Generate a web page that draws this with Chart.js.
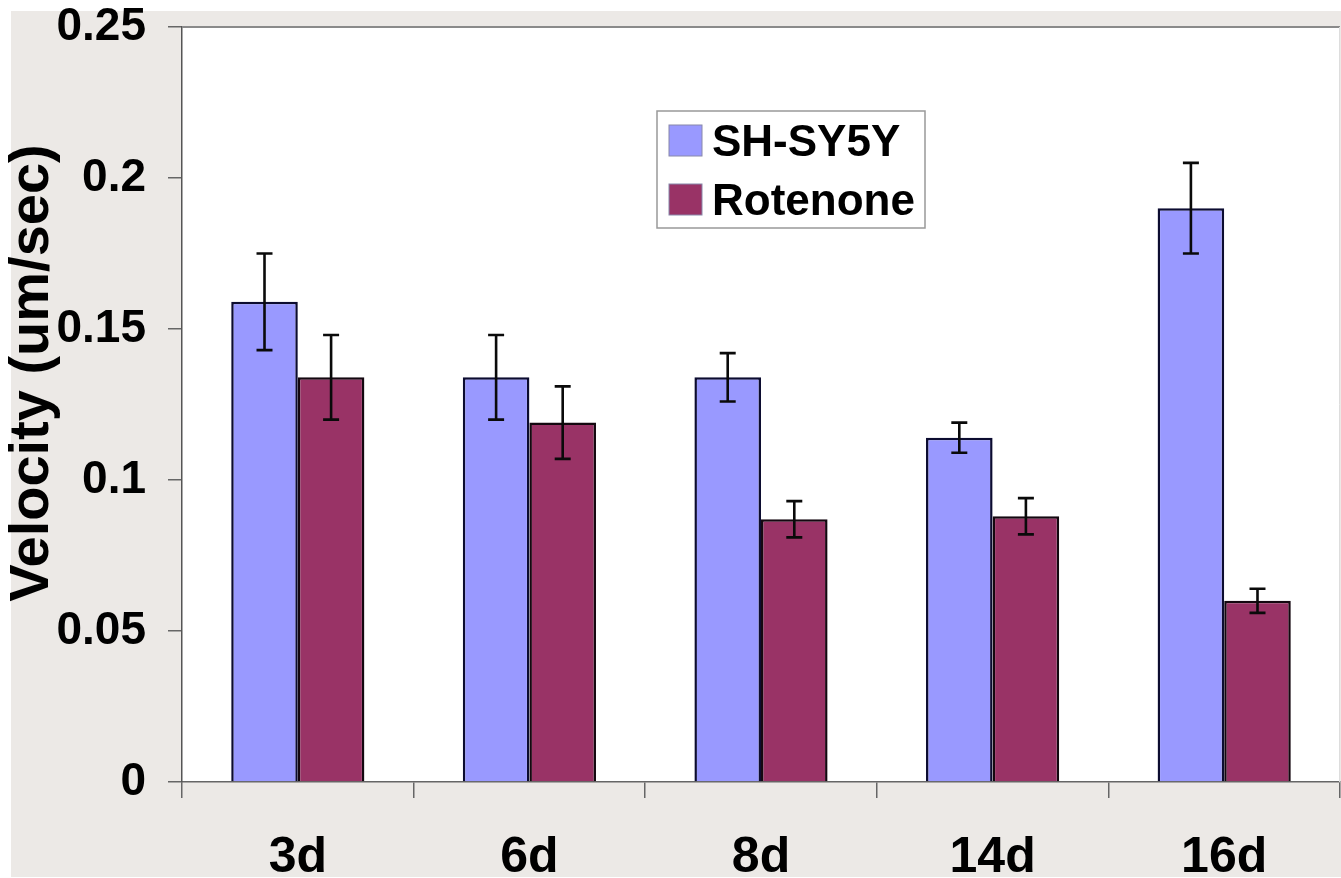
<!DOCTYPE html>
<html lang="en">
<head>
    <meta charset="UTF-8">
    <title>Velocity - SH-SY5Y vs Rotenone</title>
    <script src="https://cdn.jsdelivr.net/npm/chart.js"></script>
    <style>
        body { margin: 0; background: #ffffff; }
        #wrap { width: 1341px; height: 878px; }
    </style>
</head>
<body>
    <div id="wrap">
        <canvas id="velocityChart" width="1341" height="878"></canvas>
    </div>

    <script>
        // chart data
        const categories = ['3d', '6d', '8d', '14d', '16d'];
        const shsy5y = [0.159, 0.134, 0.134, 0.114, 0.190];
        const shsy5yErr = [0.016, 0.014, 0.008, 0.005, 0.015];
        const rotenone = [0.134, 0.119, 0.087, 0.088, 0.060];
        const rotenoneErr = [0.014, 0.012, 0.006, 0.006, 0.004];
        const yTickLabels = ['0', '0.05', '0.1', '0.15', '0.2', '0.25'];
        const yTitle = 'Velocity (um/sec)';

        Chart.defaults.font.family = '"Liberation Sans", Arial, sans-serif';
        Chart.defaults.font.weight = 'bold';
        Chart.defaults.color = '#000';

        // gray page + white plot area
        const backdrop = {
            id: 'backdrop',
            beforeDraw(chart) {
                const { ctx, chartArea: a } = chart;
                ctx.save();
                ctx.fillStyle = '#ffffff';
                ctx.fillRect(0, 0, chart.width, chart.height);
                ctx.fillStyle = '#ece9e6';
                ctx.fillRect(11, 11, chart.width - 11, chart.height - 12);
                ctx.fillStyle = '#ffffff';
                ctx.fillRect(a.left, a.top, a.right - a.left, a.bottom - a.top);
                ctx.restore();
            },
            afterDraw(chart) {
                const { ctx, chartArea: a } = chart;
                ctx.save();
                ctx.strokeStyle = '#8a8a8a';
                ctx.lineWidth = 2;
                ctx.beginPath();
                ctx.moveTo(a.left, a.top);
                ctx.lineTo(a.right, a.top);
                ctx.stroke();
                ctx.strokeStyle = '#dddddd';
                ctx.lineWidth = 1;
                ctx.beginPath();
                ctx.moveTo(a.right - 0.5, a.top);
                ctx.lineTo(a.right - 0.5, a.bottom);
                ctx.stroke();

                // y axis title
                ctx.fillStyle = '#000';
                ctx.font = 'bold 56px "Liberation Sans", Arial, sans-serif';
                ctx.textAlign = 'center';
                ctx.textBaseline = 'middle';
                ctx.translate(33, 373);
                ctx.rotate(-Math.PI / 2);
                ctx.fillText(yTitle, 0, 0);
                ctx.restore();
            }
        };

        // error bars on each bar
        const errorBars = {
            id: 'errorBars',
            afterDatasetsDraw(chart) {
                const { ctx } = chart;
                const y = chart.scales.y;
                const errs = [shsy5yErr, rotenoneErr];
                ctx.save();
                ctx.strokeStyle = '#0a0a0a';
                ctx.lineWidth = 2.6;
                chart.data.datasets.forEach((ds, i) => {
                    chart.getDatasetMeta(i).data.forEach((bar, j) => {
                        const v = ds.data[j];
                        const top = y.getPixelForValue(v + errs[i][j]);
                        const bot = y.getPixelForValue(v - errs[i][j]);
                        ctx.beginPath();
                        ctx.moveTo(bar.x, top);
                        ctx.lineTo(bar.x, bot);
                        ctx.moveTo(bar.x - 8, top);
                        ctx.lineTo(bar.x + 8, top);
                        ctx.moveTo(bar.x - 8, bot);
                        ctx.lineTo(bar.x + 8, bot);
                        ctx.stroke();
                    });
                });
                ctx.restore();
            }
        };

        // legend box inside the plot
        const boxLegend = {
            id: 'boxLegend',
            afterDraw(chart) {
                const { ctx } = chart;
                ctx.save();
                ctx.fillStyle = '#fff';
                ctx.fillRect(657, 111, 268, 117);
                ctx.strokeStyle = '#999';
                ctx.lineWidth = 1.5;
                ctx.strokeRect(657, 111, 268, 117);
                ctx.font = 'bold 44px "Liberation Sans", Arial, sans-serif';
                ctx.textBaseline = 'alphabetic';
                ctx.textAlign = 'left';
                chart.data.datasets.forEach((ds, i) => {
                    const sy = 125 + i * 59;
                    ctx.fillStyle = ds.backgroundColor;
                    ctx.fillRect(669, sy, 33, 31);
                    ctx.strokeStyle = '#8888aa';
                    ctx.lineWidth = 1;
                    ctx.strokeRect(669, sy, 33, 31);
                    ctx.fillStyle = '#000';
                    ctx.fillText(ds.label, 712, sy + 31);
                });
                ctx.restore();
            }
        };

        const ctx = document.getElementById('velocityChart').getContext('2d');
        const velocityChart = new Chart(ctx, {
            type: 'bar',
            data: {
                labels: categories,
                datasets: [{
                    label: 'SH-SY5Y',
                    data: shsy5y,
                    backgroundColor: '#9999ff',
                    borderColor: '#0c0c30',
                    borderWidth: 2.5,
                    barPercentage: 1,
                    categoryPercentage: 0.575
                }, {
                    label: 'Rotenone',
                    data: rotenone,
                    backgroundColor: '#993366',
                    borderColor: '#140810',
                    borderWidth: 2.5,
                    barPercentage: 1,
                    categoryPercentage: 0.575
                }]
            },
            options: {
                responsive: false,
                animation: false,
                layout: { padding: { top: 27, right: 1, left: 0, bottom: 0 } },
                plugins: {
                    legend: { display: false },
                    tooltip: { enabled: false }
                },
                scales: {
                    x: {
                        afterFit(scale) {
                            scale.height = 96;
                            scale.paddingLeft = 0;
                            scale.paddingRight = 0;
                        },
                        grid: { drawOnChartArea: false, tickLength: 16, color: '#666', lineWidth: 1.5 },
                        border: { color: '#666', width: 1.5 },
                        ticks: { font: { size: 50, weight: 'bold' }, color: '#000', padding: 30 }
                    },
                    y: {
                        min: 0,
                        max: 0.25,
                        afterFit(scale) {
                            scale.width = 182;
                            scale.paddingTop = 0;
                            scale.paddingBottom = 0;
                        },
                        grid: { drawOnChartArea: false, tickLength: 14, color: '#666', lineWidth: 1.5 },
                        border: { color: '#555', width: 1.5 },
                        ticks: {
                            stepSize: 0.05,
                            padding: 22,
                            font: { size: 46, weight: 'bold' },
                            color: '#000',
                            callback: (v, i) => yTickLabels[i]
                        }
                    }
                }
            },
            plugins: [backdrop, errorBars, boxLegend]
        });
    </script>
</body>
</html>
